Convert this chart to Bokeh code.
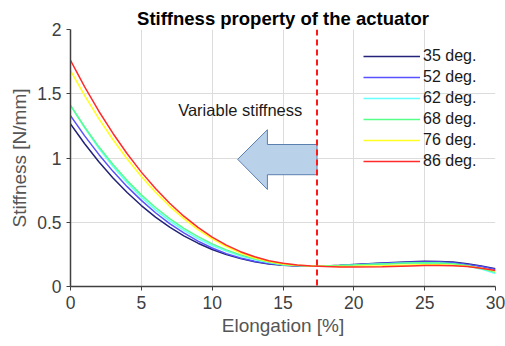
from bokeh.plotting import figure
from bokeh.models import Range1d, Legend, LegendItem, Span, Label, FixedTicker
from bokeh.embed import file_html
from bokeh.resources import INLINE

elong = [0, 1, 2, 3, 4, 5, 6, 7, 8, 9, 10, 11, 12, 13, 14, 15, 16, 17, 18, 19, 20, 22, 24, 25, 26, 27, 28, 29, 30]

s35 = [1.265, 1.111, 0.971, 0.845, 0.731, 0.630, 0.540, 0.462, 0.394, 0.337, 0.288, 0.248, 0.217, 0.193, 0.176, 0.165,
       0.160, 0.158, 0.160, 0.165, 0.171, 0.183, 0.193, 0.196, 0.195, 0.190, 0.178, 0.160, 0.138]
s52 = [1.330, 1.172, 1.028, 0.896, 0.777, 0.670, 0.574, 0.490, 0.417, 0.353, 0.300, 0.256, 0.222, 0.196, 0.178, 0.168,
       0.162, 0.159, 0.160, 0.164, 0.169, 0.180, 0.189, 0.191, 0.190, 0.185, 0.172, 0.155, 0.132]
s62 = [1.410, 1.235, 1.076, 0.934, 0.807, 0.695, 0.596, 0.510, 0.436, 0.372, 0.319, 0.275, 0.238, 0.209, 0.186, 0.169,
       0.163, 0.160, 0.160, 0.163, 0.167, 0.176, 0.183, 0.184, 0.182, 0.175, 0.160, 0.135, 0.100]
s68 = [1.410, 1.241, 1.087, 0.949, 0.824, 0.713, 0.615, 0.528, 0.453, 0.388, 0.332, 0.285, 0.246, 0.215, 0.190, 0.170,
       0.163, 0.160, 0.160, 0.163, 0.167, 0.176, 0.183, 0.185, 0.183, 0.177, 0.163, 0.140, 0.110]
s76 = [1.680, 1.486, 1.307, 1.142, 0.992, 0.856, 0.734, 0.624, 0.528, 0.443, 0.371, 0.310, 0.261, 0.222, 0.194, 0.175,
       0.165, 0.160, 0.157, 0.156, 0.157, 0.162, 0.168, 0.170, 0.170, 0.166, 0.157, 0.143, 0.120]
s86 = [1.760, 1.554, 1.364, 1.191, 1.033, 0.890, 0.762, 0.648, 0.547, 0.460, 0.385, 0.322, 0.271, 0.231, 0.201, 0.181,
       0.168, 0.160, 0.155, 0.152, 0.151, 0.153, 0.160, 0.163, 0.164, 0.162, 0.155, 0.142, 0.125]

series = [s35, s52, s62, s68, s76, s86]
labels = ["35 deg.", "52 deg.", "62 deg.", "68 deg.", "76 deg.", "86 deg."]
colors = ["#232378", "#5a50ff", "#66ffff", "#55ff88", "#ffff22", "#ff2a2a"]

x_ticks = [0, 5, 10, 15, 20, 25, 30]
y_ticks = [0, 0.5, 1, 1.5, 2]

threshold_x = 17.4
arrow_x = [11.8, 13.9, 13.9, 17.4, 17.4, 13.9, 13.9]
arrow_y = [0.99, 1.22, 1.105, 1.105, 0.87, 0.87, 0.755]
note_text = "Variable stiffness"
note_x = 7.6
note_y = 1.37

FONT = "Liberation Sans"

p = figure(width=505, height=346, output_backend="svg", toolbar_location=None,
           x_range=Range1d(0, 30), y_range=Range1d(0, 2),
           min_border_left=70, min_border_right=10, min_border_top=29, min_border_bottom=60)

p.title.text = "Stiffness property of the actuator"
p.title.text_font = FONT
p.title.text_font_size = "18.5px"
p.title.text_font_style = "bold"
p.title.text_color = "#000000"
p.title.align = "center"
p.title.standoff = 2
p.title.offset = 0

p.outline_line_color = None
p.background_fill_color = "white"

for ax in (p.xaxis[0], p.yaxis[0]):
    ax.axis_line_color = "#404040"
    ax.axis_line_width = 1.5
    ax.major_tick_line_color = "#404040"
    ax.major_tick_out = 4
    ax.major_tick_in = 0
    ax.minor_tick_line_color = None
    ax.major_label_text_font = FONT
    ax.major_label_text_font_size = "17.5px"
    ax.major_label_text_color = "#404040"
    ax.axis_label_text_font = FONT
    ax.axis_label_text_font_size = "19px"
    ax.axis_label_text_font_style = "normal"
    ax.axis_label_text_color = "#555555"

p.xaxis[0].ticker = FixedTicker(ticks=x_ticks)
p.yaxis[0].ticker = FixedTicker(ticks=y_ticks)
p.xaxis[0].axis_label = "Elongation [%]"
p.yaxis[0].axis_label = "Stiffness [N/mm]"
p.xaxis[0].axis_label_standoff = 3
p.yaxis[0].axis_label_standoff = 4

p.xgrid.ticker = FixedTicker(ticks=x_ticks)
p.ygrid.ticker = FixedTicker(ticks=y_ticks)
p.grid.grid_line_color = "#dcdcdc"
p.grid.grid_line_width = 1

renderers = []
for ys, c in zip(series, colors):
    r = p.line(elong, ys, line_color=c, line_width=1.5)
    renderers.append(r)

p.add_layout(Span(location=threshold_x, dimension="height", line_color="#ff1a1a",
                  line_width=2, line_dash="6 4"))

p.patch(arrow_x, arrow_y, fill_color="#bad1ea", line_color="#5b7fae", line_width=1)

p.add_layout(Label(x=note_x, y=note_y, text=note_text, text_font=FONT, text_font_size="16.5px",
                   text_color="#1a1a1a", text_baseline="middle"))

legend = Legend(items=[LegendItem(label=l, renderers=[r]) for l, r in zip(labels, renderers)],
                location=(293, 115), padding=0, margin=0, spacing=1,
                glyph_width=57, glyph_height=20, label_height=20, label_standoff=3,
                label_text_font=FONT, label_text_font_size="16px", label_text_color="#1a1a1a",
                border_line_color=None, background_fill_alpha=0)
p.add_layout(legend)

open("out.html", "w").write(file_html(p, INLINE))
